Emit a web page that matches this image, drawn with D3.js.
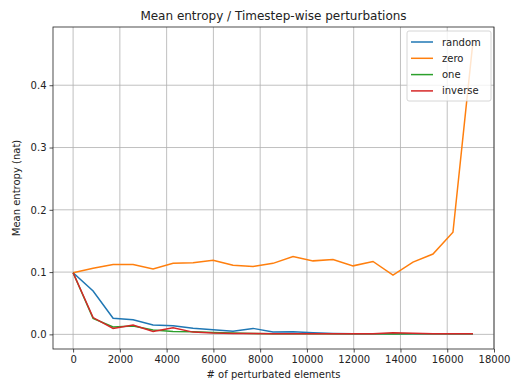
<!DOCTYPE html>
<meta charset="utf-8">
<title>Mean entropy</title>
<script src="https://cdn.jsdelivr.net/npm/d3@7"></script>
<style>
body { margin: 0; background: #fff; }
text { font-family: "DejaVu Sans", sans-serif; fill: #222; }
.grid line { stroke: #b0b0b0; stroke-width: 0.8px; }
path.series { fill: none; stroke-width: 1.5px; }
</style>
<body>
<script>

// x positions (# of perturbated elements)
var steps = d3.range(0, 21).map(function(i){ return i * 855; });

var seriesNames = ["random", "zero", "one", "inverse"];
var seriesColors = ["#1f77b4", "#ff7f0e", "#2ca02c", "#d62728"];

var random  = [0.099, 0.0697, 0.026, 0.0233, 0.0149, 0.0137, 0.010, 0.0074, 0.0050, 0.0096, 0.0037, 0.004, 0.0025, 0.0015, 0.001, 0.001, 0.001, 0.001, 0.001, 0.001, 0.001];
var zero    = [0.099, 0.106, 0.112, 0.112, 0.105, 0.114, 0.115, 0.119, 0.111, 0.109, 0.114, 0.125, 0.118, 0.120, 0.110, 0.117, 0.095, 0.116, 0.129, 0.164, 0.470];
var one     = [0.099, 0.0255, 0.012, 0.0135, 0.0069, 0.0047, 0.004, 0.003, 0.002, 0.0015, 0.001, 0.001, 0.001, 0.001, 0.001, 0.001, 0.0005, 0.0008, 0.001, 0.001, 0.001];
var inverse = [0.099, 0.027, 0.0096, 0.0149, 0.0048, 0.0105, 0.0036, 0.002, 0.0015, 0.0012, 0.001, 0.001, 0.001, 0.001, 0.001, 0.001, 0.0025, 0.0018, 0.001, 0.001, 0.001];

var xTicks = [0, 2000, 4000, 6000, 8000, 10000, 12000, 14000, 16000, 18000];
var yTicks = [0.0, 0.1, 0.2, 0.3, 0.4];

var allSeries = [random, zero, one, inverse];

var width = 511, height = 382;
var margin = {top: 27, right: 17, bottom: 33, left: 53};

var svg = d3.select("body").append("svg")
    .attr("width", width)
    .attr("height", height);

var x = d3.scaleLinear()
    .domain([-860, 18000])
    .range([margin.left, width - margin.right]);

var y = d3.scaleLinear()
    .domain([-0.0235, 0.4935])
    .range([height - margin.bottom, margin.top]);

// grid
var grid = svg.append("g").attr("class", "grid");
grid.selectAll(".vx").data(xTicks).enter().append("line")
    .attr("x1", function(d){ return x(d); })
    .attr("x2", function(d){ return x(d); })
    .attr("y1", margin.top).attr("y2", height - margin.bottom);
grid.selectAll(".hy").data(yTicks).enter().append("line")
    .attr("y1", function(d){ return y(d); })
    .attr("y2", function(d){ return y(d); })
    .attr("x1", margin.left).attr("x2", width - margin.right);

// lines
var line = d3.line()
    .x(function(d, i){ return x(steps[i]); })
    .y(function(d){ return y(d); });

var clip = svg.append("clipPath").attr("id", "clip").append("rect")
    .attr("x", margin.left).attr("y", margin.top)
    .attr("width", width - margin.left - margin.right)
    .attr("height", height - margin.top - margin.bottom);

svg.append("g").attr("clip-path", "url(#clip)")
  .selectAll("path")
  .data(allSeries)
  .enter().append("path")
    .attr("class", "series")
    .attr("stroke", function(d, i){ return seriesColors[i]; })
    .attr("d", line);

// axes
var xAxis = svg.append("g")
    .attr("transform", "translate(0," + (height - margin.bottom) + ")")
    .call(d3.axisBottom(x).tickValues(xTicks).tickSize(3.5).tickPadding(3).tickFormat(d3.format("d")));
var yAxis = svg.append("g")
    .attr("transform", "translate(" + margin.left + ",0)")
    .call(d3.axisLeft(y).tickValues(yTicks).tickSize(3.5).tickPadding(3).tickFormat(d3.format(".1f")));

[xAxis, yAxis].forEach(function(a){
  a.select(".domain").remove();
  a.selectAll("text").attr("font-size", "10px").attr("font-family", "DejaVu Sans").attr("fill", "#222");
  a.selectAll("line").attr("stroke", "#222").attr("stroke-width", 0.8);
});

// frame
svg.append("rect")
    .attr("x", margin.left).attr("y", margin.top)
    .attr("width", width - margin.left - margin.right)
    .attr("height", height - margin.top - margin.bottom)
    .attr("fill", "none").attr("stroke", "#222").attr("stroke-width", 0.8);

// titles
svg.append("text")
    .attr("x", (margin.left + width - margin.right) / 2)
    .attr("y", 20)
    .attr("text-anchor", "middle")
    .attr("font-size", "12px")
    .text("Mean entropy / Timestep-wise perturbations");

svg.append("text")
    .attr("x", (margin.left + width - margin.right) / 2)
    .attr("y", 378)
    .attr("text-anchor", "middle")
    .attr("font-size", "10px")
    .text("# of perturbated elements");

svg.append("text")
    .attr("transform", "translate(20," + ((margin.top + height - margin.bottom) / 2) + ") rotate(-90)")
    .attr("text-anchor", "middle")
    .attr("font-size", "10px")
    .text("Mean entropy (nat)");

// legend
var legend = svg.append("g").attr("transform", "translate(407,31)");
legend.append("rect")
    .attr("width", 84).attr("height", 70).attr("rx", 2)
    .attr("fill", "#fff").attr("fill-opacity", 0.8)
    .attr("stroke", "#ccc").attr("stroke-width", 0.8);
var items = legend.selectAll(".item").data(seriesNames).enter().append("g")
    .attr("transform", function(d, i){ return "translate(0," + (11 + i * 16.3) + ")"; });
items.append("line")
    .attr("x1", 4).attr("x2", 26)
    .attr("stroke", function(d, i){ return seriesColors[i]; })
    .attr("stroke-width", 1.5);
items.append("text")
    .attr("x", 35).attr("y", 3.5)
    .attr("font-size", "10px")
    .text(function(d){ return d; });

</script>
</body>
</html>
